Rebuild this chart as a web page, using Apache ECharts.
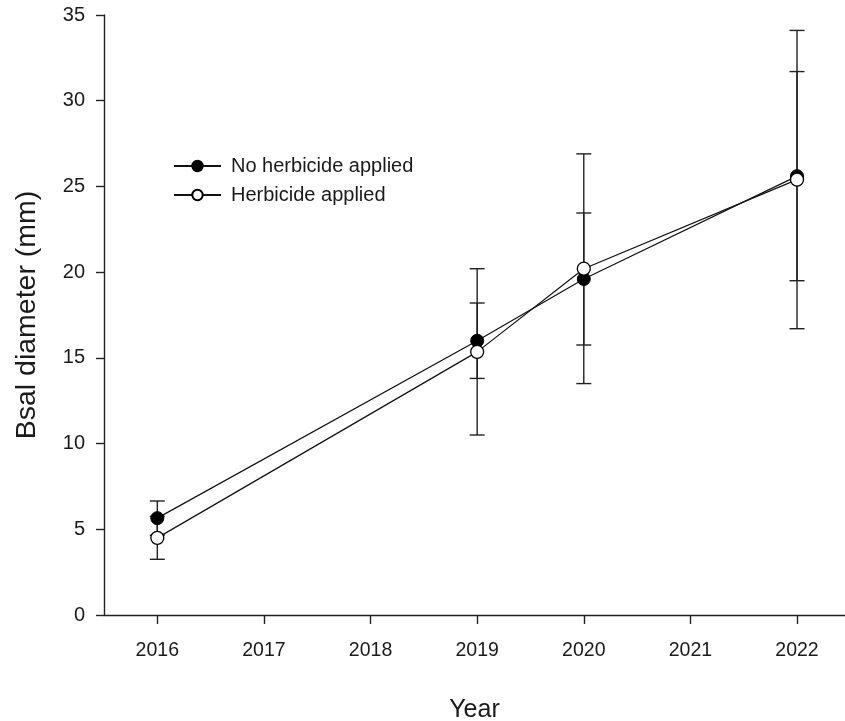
<!DOCTYPE html>
<html><head><meta charset="utf-8">
<script src="https://cdn.jsdelivr.net/npm/echarts@6/dist/echarts.min.js"></script>
<style>html,body{margin:0;padding:0;background:#fff}#c{width:845px;height:721px}</style>
</head><body><div id="c"></div>
<script>
var years = [2016, 2019, 2020, 2022];
var tickYears = [2016, 2017, 2018, 2019, 2020, 2021, 2022];
var noHerbMean = [5.65, 16.0, 19.6, 25.6];
var noHerbErr = [1.0, 2.2, 3.85, 6.1];
var herbMean = [4.5, 15.35, 20.2, 25.4];
var herbErr = [1.25, 4.85, 6.7, 8.7];

function pairs(xs, ys){ return xs.map(function(x,i){return [x, ys[i]];}); }
function errData(xs, m, e){ return xs.map(function(x,i){return [x, m[i]-e[i], m[i]+e[i]];}); }

function errRender(params, api){
  var x = api.value(0), lo = api.value(1), hi = api.value(2);
  var pLo = api.coord([x, lo]), pHi = api.coord([x, hi]);
  var w = 7.5;
  var st = {stroke:'#222', lineWidth:1.4};
  return {type:'group', children:[
    {type:'line', shape:{x1:pLo[0], y1:pLo[1], x2:pHi[0], y2:pHi[1]}, style:st},
    {type:'line', shape:{x1:pLo[0]-w, y1:pLo[1], x2:pLo[0]+w, y2:pLo[1]}, style:st},
    {type:'line', shape:{x1:pHi[0]-w, y1:pHi[1], x2:pHi[0]+w, y2:pHi[1]}, style:st}
  ]};
}

var font = '"Liberation Sans", Arial, sans-serif';
var chart = echarts.init(document.getElementById('c'));
chart.setOption({
  animation:false,
  backgroundColor:'#fff',
  grid:{left:104, right:0, top:15, bottom:106, containLabel:false, outerBoundsMode:'none'},
  legend:{
    left:168, top:151, orient:'vertical', itemGap:9,
    itemWidth:47, itemHeight:13,
    textStyle:{fontFamily:font, fontSize:20, color:'#1a1a1a', padding:[0,0,0,5]},
    data:['No herbicide applied','Herbicide applied']
  },
  xAxis:{
    type:'value', min:2015.5, max:2022.45,
    name:'Year', nameLocation:'middle', nameGap:83,
    nameTextStyle:{fontFamily:font, fontSize:25, color:'#1a1a1a'},
    axisLine:{show:true, lineStyle:{color:'#222', width:1.4}},
    axisTick:{show:true, length:9, customValues:tickYears, lineStyle:{color:'#222', width:1.4}},
    axisLabel:{customValues:tickYears, margin:26, fontFamily:font, fontSize:19.5, color:'#1a1a1a', formatter:function(v){return String(v);}},
    splitLine:{show:false}
  },
  yAxis:{
    type:'value', min:0, max:35, interval:5,
    name:'Bsal diameter (mm)', nameLocation:'middle', nameGap:62, nameRotate:90,
    nameTextStyle:{fontFamily:font, fontSize:28.5, color:'#1a1a1a'},
    axisLine:{show:true, lineStyle:{color:'#222', width:1.4}},
    axisTick:{show:true, length:8, lineStyle:{color:'#222', width:1.4}},
    axisLabel:{margin:19, fontFamily:font, fontSize:20, color:'#1a1a1a'},
    splitLine:{show:false}
  },
  series:[
    {type:'custom', renderItem:errRender, data:errData(years, noHerbMean, noHerbErr), z:1, silent:true},
    {type:'custom', renderItem:errRender, data:errData(years, herbMean, herbErr), z:1, silent:true},
    {name:'No herbicide applied', type:'line', data:pairs(years, noHerbMean), z:3,
     symbol:'circle', symbolSize:13, showAllSymbol:true,
     lineStyle:{color:'#111', width:1.2}, itemStyle:{color:'#000', borderColor:'#000', borderWidth:1}},
    {name:'Herbicide applied', type:'line', data:pairs(years, herbMean), z:4,
     symbol:'circle', symbolSize:13, showAllSymbol:true,
     lineStyle:{color:'#111', width:1.2}, itemStyle:{color:'#fff', borderColor:'#000', borderWidth:1.3}}
  ]
});
</script></body></html>
